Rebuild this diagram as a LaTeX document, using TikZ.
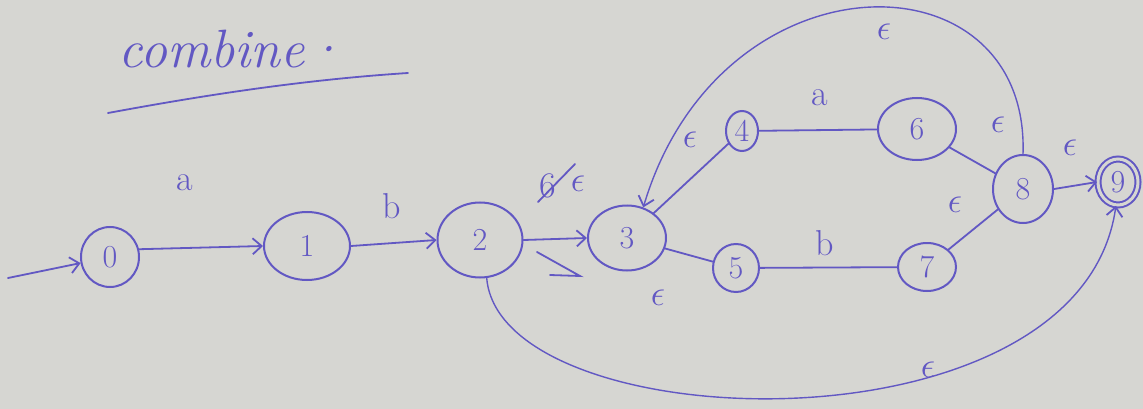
\RequirePackage{fix-cm}
\documentclass[tikz,border=0pt]{standalone}
\usetikzlibrary{shapes.geometric,arrows.meta}
\definecolor{ink}{RGB}{98,88,195}
\definecolor{paper}{RGB}{214,214,210}
\begin{document}
\begin{tikzpicture}[x=1pt,y=-1pt,
  st/.style={draw=ink, line width=2pt, ellipse, inner sep=0pt, text=ink,
    font=\fontsize{32}{32}\selectfont},
  lbl/.style={text=ink, font=\fontsize{36}{36}\selectfont, inner sep=0pt},
  edge/.style={draw=ink, line width=1.8pt, line cap=round},
  arc/.style={draw=ink, line width=1.4pt, line cap=round},
  tip/.style={-{Straight Barb[length=9pt,width=16pt,line width=1.8pt]}},
  arr/.style={edge, tip}]
\fill[paper] (0,0) rectangle (1143,409);
\useasboundingbox (0,0) rectangle (1143,409);

% title
\node[text=ink, font=\itshape\fontsize{54}{54}\selectfont, anchor=base] (title) at (232,68) {combine\textperiodcentered};
\coordinate (u1) at (108,113);
\coordinate (u2) at (408,73);
\draw[edge] (u1) .. controls (200,96) and (300,80) .. (u2);

% states
\node[st, minimum width=58pt, minimum height=60pt] (n0) at (110,257) {0};
\node[st, minimum width=86pt, minimum height=68pt] (n1) at (307,246) {1};
\node[st, minimum width=85pt, minimum height=75pt] (n2) at (480,240) {2};
\node[st, minimum width=78pt, minimum height=65pt] (n3) at (627,238) {3};
\node[st, minimum width=32pt, minimum height=40pt] (n4) at (742,131) {4};
\node[st, minimum width=46pt, minimum height=48pt] (n5) at (736,268) {5};
\node[st, minimum width=78pt, minimum height=62pt] (n6) at (917,129) {6};
\node[st, minimum width=58pt, minimum height=48pt] (n7) at (927,267) {7};
\node[st, minimum width=60pt, minimum height=68pt] (n8) at (1023,189) {8};
\node[st, double=paper, double distance=3pt, minimum width=40pt, minimum height=46pt] (n9) at (1118,182) {9};

% start
\coordinate (s) at (8,278);
\draw[arr] (s) -- (n0);

% edges
\draw[arr] (n0.15) -- (n1.west);
\draw[arr] (n1.east) -- (n2.west);
\draw[arr] (n2.east) -- (n3.west);
\draw[edge] (n4) -- (n3);
\draw[edge] (n4) -- (n6);
\draw[edge] (n6) -- (n8);
\draw[edge] (n3) -- (n5);
\draw[edge] (n5) -- (n7);
\draw[edge] (n7) -- (n8);
\draw[arr] (n8.east) -- (n9.west);
\draw[arc, tip] (n8.north) .. controls (1030,-50) and (720,-50) .. (n3.62);
\draw[arc, tip] (n2.-80) .. controls (500,440) and (1080,460) .. (n9.-95);

% stray arrow under 2->3
\coordinate (x1) at (537,252);
\coordinate (x2) at (580,276);
\coordinate (x3) at (550,275);
\draw[edge] (x1) -- (x2) -- (x3);

% labels
\node[lbl] (la) at (185,183) {a};
\node[lbl] (lb) at (392,206) {b};
\node[lbl] (l6) at (548,186) {6};
\coordinate (k1) at (538,202);
\coordinate (k2) at (575,164);
\draw[edge] (k1) -- (k2);
\node[lbl] (l23) at (578,184) {$\epsilon$};
\node[lbl] (l34) at (690,140) {$\epsilon$};
\node[lbl] (l46) at (820,98) {a};
\node[lbl] (l68) at (998,125) {$\epsilon$};
\node[lbl] (ltop) at (884,32) {$\epsilon$};
\node[lbl] (l89) at (1070,148) {$\epsilon$};
\node[lbl] (l78) at (955,205) {$\epsilon$};
\node[lbl] (l57) at (825,243) {b};
\node[lbl] (l35) at (658,298) {$\epsilon$};
\node[lbl] (l29) at (928,370) {$\epsilon$};
\end{tikzpicture}
\end{document}
